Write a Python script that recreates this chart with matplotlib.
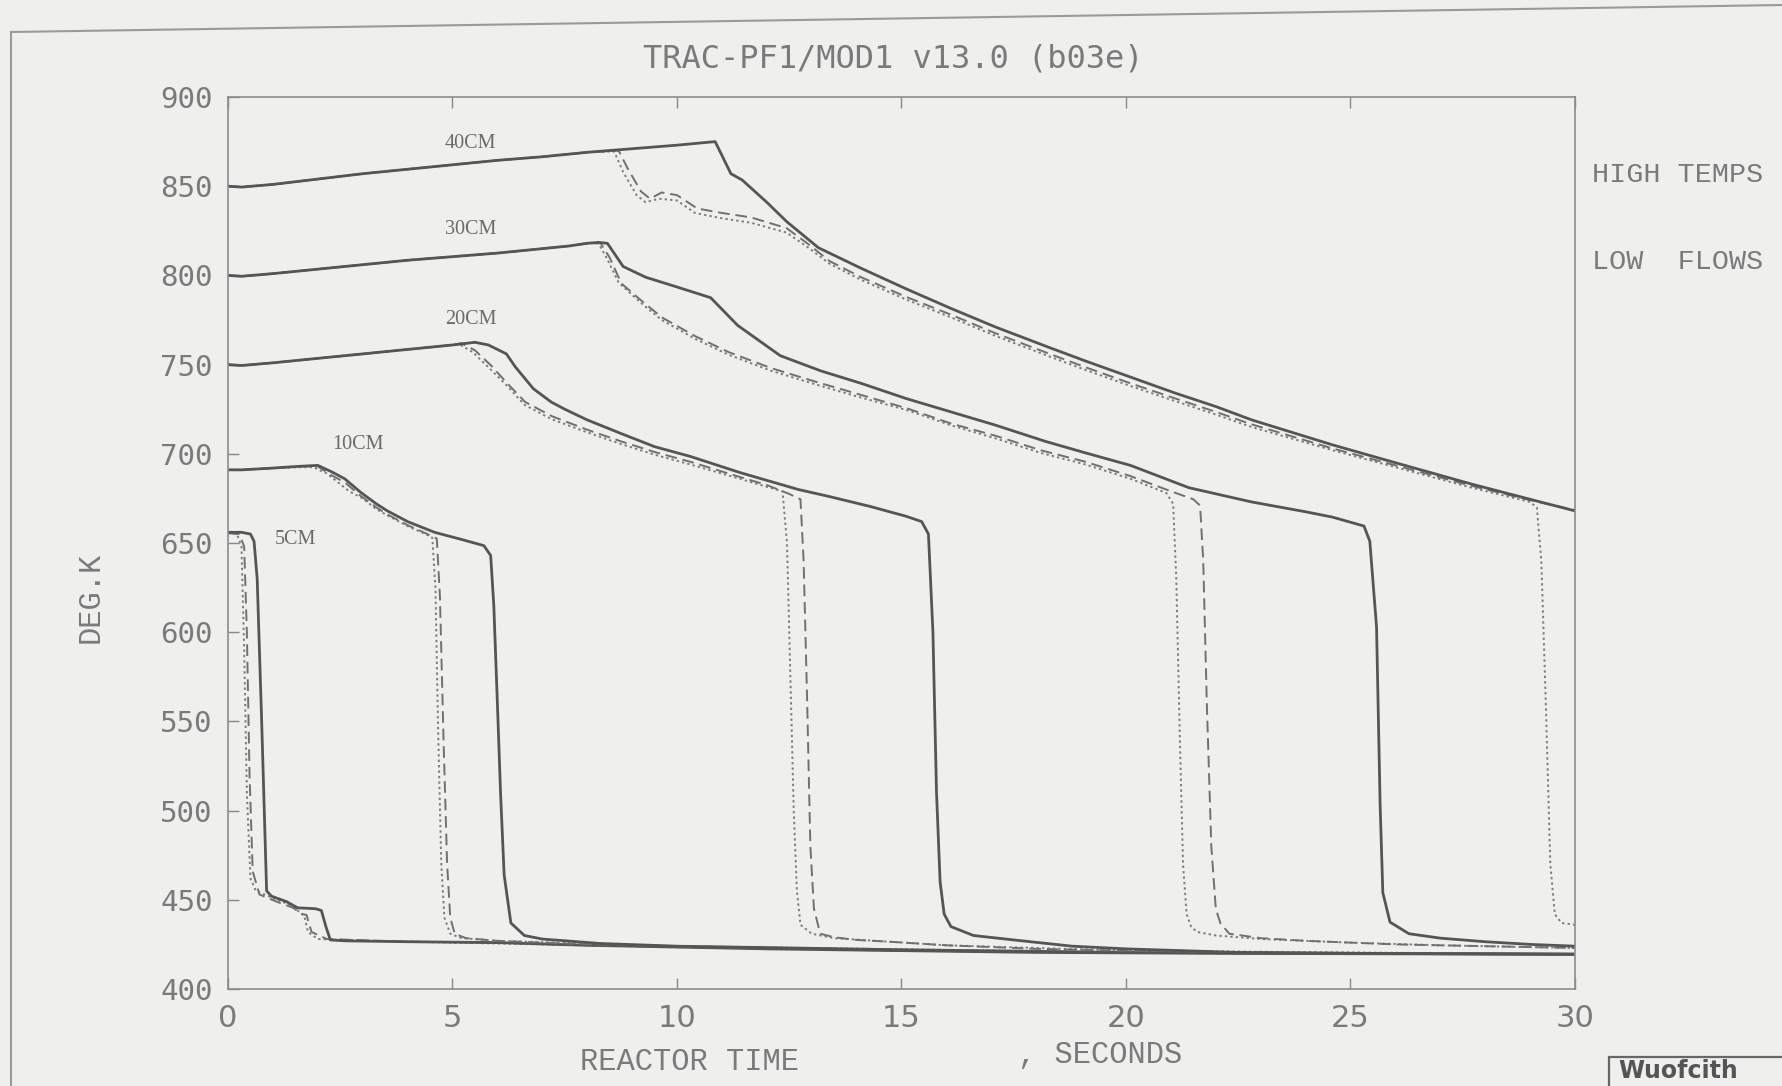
import matplotlib
matplotlib.use("Agg")
import matplotlib.pyplot as plt
from matplotlib.lines import Line2D
from matplotlib.patches import Rectangle

# ---------------------------------------------------------------------------
# Cladding temperature histories (deg K) at five elevations, three cases each
# ---------------------------------------------------------------------------
x_ticks = [0, 5, 10, 15, 20, 25, 30]
x_tick_labels = ["0", "5", "10", "15", "20", "25", "30"]
y_ticks = [400, 450, 500, 550, 600, 650, 700, 750, 800, 850, 900]
y_tick_labels = ["400", "450", "500", "550", "600", "650", "700", "750", "800", "850", "900"]

elevations = ["5CM", "10CM", "20CM", "30CM", "40CM"]
label_t = [1.5, 2.9, 5.4, 5.4, 5.4]
label_T = [652, 705, 775, 826, 874]

# --- 5 cm ---
t_5_solid = [0.0, 0.3, 0.5, 0.58, 0.65, 0.75, 0.86, 0.97, 1.3, 1.55, 1.95, 2.08, 2.18, 2.28,
             2.6, 4, 6, 8, 10, 12, 15, 18, 22, 26, 30]
T_5_solid = [656, 656, 655, 651, 630, 550, 455, 452, 449, 445.5, 445, 444, 435, 427.5,
             427, 426.5, 426, 424.5, 423.5, 422.5, 421.5, 420.5, 420, 419.7, 419.5]
t_5_dash = [0.0, 0.25, 0.36, 0.42, 0.48, 0.55, 0.7, 1.08, 1.45, 1.65, 1.75, 1.8, 1.86, 2.2,
            4, 6, 8, 10, 15, 22, 30]
T_5_dash = [655.5, 655, 648, 600, 520, 466, 453, 449, 445.5, 442, 441.5, 437, 432, 428,
            426.5, 426, 424.5, 423.5, 421.5, 420, 419.5]
t_5_dot = [0.0, 0.2, 0.3, 0.36, 0.42, 0.5, 0.62, 1.0, 1.4, 1.6, 1.7, 1.78, 2.0, 4, 8, 15, 30]
T_5_dot = [655.5, 655, 648, 590, 510, 462, 455, 451, 447, 443, 441, 432, 428, 426.5, 424.5,
           421.5, 419.5]

# --- 10 cm ---
t_10_solid = [0, 0.3, 1.0, 1.6, 2.0, 2.3, 2.6, 2.95, 3.3, 3.55, 4.0, 4.6, 5.2, 5.7, 5.85,
              5.92, 6.0, 6.07, 6.15, 6.3, 6.6, 7.0, 8.3, 10, 15, 20, 25, 30]
T_10_solid = [691, 691, 692, 693, 693.5, 690, 686, 678.5, 672, 668, 662, 656, 652, 648.5, 643,
              615, 560, 510, 464, 437, 430, 428, 425.5, 424, 422, 420.5, 420, 419.5]
t_10_dash = [0, 0.3, 1.0, 1.6, 2.0, 2.3, 2.6, 2.95, 3.3, 3.55, 4.0, 4.4, 4.65, 4.72, 4.8,
             4.88, 4.95, 5.05, 5.3, 6.0, 8.0, 10, 15, 20, 25, 30]
T_10_dash = [691, 691, 692, 693, 693, 688, 684, 676.5, 670, 666, 660, 655.5, 652.5, 620, 540,
             470, 440, 431, 428.5, 427, 425, 424, 422, 420.5, 420, 419.5]
t_10_dot = [0, 0.3, 1.0, 1.6, 1.9, 2.2, 2.45, 2.7, 3.0, 3.3, 3.55, 4.0, 4.4, 4.55, 4.62,
            4.68, 4.75, 4.82, 4.95, 5.2, 6.0, 10, 20, 30]
T_10_dot = [691, 691, 692, 692.5, 692.5, 689, 684, 679, 675, 669, 665.5, 659.5, 655, 653, 625,
            545, 470, 440, 431, 428.5, 427, 424, 420.5, 419.5]

# --- 20 cm ---
t_20_solid = [0, 0.3, 1, 2, 3, 4, 5, 5.5, 5.8, 6.2, 6.4, 6.8, 7.2, 7.5, 8.0, 8.75, 9.5, 10.3,
              11.4, 12.7, 13.4, 14.3, 15.1, 15.45, 15.6, 15.7, 15.78, 15.86, 15.95, 16.1,
              16.6, 17.5, 18.8, 20, 22.5, 25, 30]
T_20_solid = [750, 749.5, 751, 753.5, 756, 758.5, 761, 762.5, 761, 756, 748.7, 736.5, 729, 725,
              719, 711.4, 704, 698.5, 689.5, 680, 676, 670.5, 665, 662, 655, 600, 510, 460,
              442, 435, 430, 427.5, 424, 422.5, 420.5, 420, 419.5]
t_20_dash = [0, 0.3, 1, 2, 3, 4, 5, 5.2, 5.5, 5.86, 6.2, 6.62, 7.22, 8.0, 8.75, 9.5, 10.3,
             11.4, 12.0, 12.5, 12.75, 12.82, 12.9, 12.97, 13.05, 13.19, 13.5, 14.0, 14.8, 16,
             18, 20, 22, 25, 30]
T_20_dash = [750, 749.5, 751, 753.5, 756, 758.5, 761, 762, 758, 749.5, 740, 729, 721, 713.5,
             707, 701, 695.5, 687, 682.5, 677.5, 674.5, 640, 560, 480, 445, 431, 429, 427.5,
             426.4, 424.5, 422.5, 421.5, 420.8, 420, 419.5]
t_20_dot = [0, 0.3, 1, 2, 3, 4, 5, 5.15, 5.45, 5.8, 6.2, 6.6, 7.2, 8.0, 8.75, 9.5, 10.3, 11.4,
            12.0, 12.35, 12.45, 12.52, 12.6, 12.67, 12.75, 13.0, 13.5, 14.8, 16, 20, 30]
T_20_dot = [750, 749.5, 751, 753.5, 756, 758.5, 761, 761.5, 757, 748.5, 738.5, 727.5, 719.5,
            712, 705.5, 699.5, 694, 686, 681.5, 679, 650, 580, 500, 455, 436, 431, 428.5,
            426.4, 424.5, 421.5, 419.5]

# --- 30 cm ---
t_30_solid = [0, 0.3, 1, 2, 3, 4, 5, 6, 7, 7.6, 8.0, 8.25, 8.45, 8.8, 9.3, 10.0, 10.5, 10.75,
              11.35, 12.3, 13.2, 14.1, 15.1, 16.1, 17.1, 18.2, 19.1, 20.1, 21.4, 22.8, 24.0,
              24.6, 25.3, 25.43, 25.58, 25.66, 25.72, 25.88, 26.3, 27.0, 28.0, 29.0, 30]
T_30_solid = [800, 799.5, 801, 803.5, 806, 808.5, 810.5, 812.5, 815, 816.5, 818, 818.5, 818,
              805, 799, 793.5, 789.5, 787.5, 772, 755, 746.5, 739.5, 731, 723.5, 716, 707,
              700.5, 693.5, 681, 673, 667.5, 664.5, 659.5, 651, 603, 503, 454, 437.5, 431,
              428.5, 426.5, 425, 424]
t_30_dash = [0, 0.3, 1, 2, 3, 4, 5, 6, 7, 7.6, 8.0, 8.3, 8.5, 8.76, 9.2, 9.66, 10.4, 11.15,
             12.1, 13.14, 14.1, 15.12, 16.1, 17.11, 18.1, 19.1, 20.1, 21.0, 21.5, 21.65,
             21.72, 21.8, 21.9, 22.0, 22.1, 22.3, 23, 24, 25, 26, 28, 30]
T_30_dash = [800, 799.5, 801, 803.5, 806, 808.5, 810.5, 812.5, 815, 816.5, 818, 818, 810,
             795.5, 786, 776.5, 766, 757, 748, 740, 733, 725.5, 717, 710, 702, 695.5, 687.5,
             679, 674.5, 671, 640, 560, 480, 445, 437, 431, 428.5, 427, 426, 425, 424, 423]
t_30_dot = [0, 0.3, 1, 2, 3, 4, 5, 6, 7, 7.6, 8.0, 8.25, 8.45, 8.7, 9.2, 9.66, 10.4, 11.15,
            12.1, 13.14, 14.1, 15.12, 16.1, 17.11, 18.1, 19.1, 20.1, 20.9, 21.05, 21.12,
            21.2, 21.27, 21.35, 21.45, 21.58, 22, 23, 25, 27, 30]
T_30_dot = [800, 799.5, 801, 803.5, 806, 808.5, 810.5, 812.5, 815, 816.5, 818, 818, 809, 796,
            784.5, 775, 764.5, 755.5, 746.5, 738.5, 731.5, 724.5, 716, 708.5, 700.5, 694, 686,
            678, 672, 630, 540, 470, 442, 435, 432, 430, 428, 426, 424.5, 423]

# --- 40 cm ---
t_40_solid = [0, 0.3, 1, 2, 3, 4, 5, 6, 7, 8, 9, 10, 10.85, 11.2, 11.45, 12.0, 12.45, 13.15,
              14.1, 15.1, 16.1, 17.1, 18.3, 19.1, 20.1, 21.1, 22.0, 22.8, 24.6, 26.0, 27.7,
              29.0, 30]
T_40_solid = [850, 849.5, 851, 854, 857, 859.5, 862, 864.5, 866.5, 869, 871, 873, 875, 857,
              853.5, 841, 830, 815.5, 804, 792.5, 781.5, 771, 759.5, 752, 743, 734, 726.5,
              719, 705, 695, 683, 674.5, 668]
t_40_dash = [0, 0.3, 1, 2, 3, 4, 5, 6, 7, 8, 8.7, 8.9, 9.2, 9.4, 9.66, 10.0, 10.45, 11.0,
             11.65, 12.44, 12.9, 13.4, 14.1, 15.1, 16.1, 17.1, 18.3, 19.1, 20.1, 21.1, 22.0,
             22.8, 24.6, 26.0, 27.7, 29.0, 30]
T_40_dash = [850, 849.5, 851, 854, 857, 859.5, 862, 864.5, 866.5, 869, 870, 860, 847, 843,
             846.5, 845, 837.5, 835, 832.5, 826.5, 818, 808, 799, 788, 778, 767.5, 756, 748.5,
             739.5, 731, 723.5, 716.5, 703, 693.5, 682, 674, 668.5]
t_40_dot = [0, 0.3, 1, 2, 3, 4, 5, 6, 7, 8, 8.6, 8.8, 9.1, 9.3, 9.6, 10.0, 10.4, 11.0, 11.65,
            12.44, 12.9, 13.4, 14.1, 15.1, 16.1, 17.1, 18.3, 19.1, 20.1, 21.1, 22.0, 22.8,
            24.6, 26.0, 27.7, 29.0, 29.15, 29.25, 29.35, 29.45, 29.55, 29.7, 30]
T_40_dot = [850, 849.5, 851, 854, 857, 859.5, 862, 864.5, 866.5, 869, 869.5, 858, 845, 841,
            843, 842, 835, 832, 829.5, 824, 816, 806.5, 797.5, 786.5, 776.5, 766, 754.5, 747,
            738, 729.5, 722, 715, 702, 692.5, 681, 673, 670, 640, 560, 470, 442, 437, 436]

series = [
    (t_5_dot, T_5_dot, "dot"), (t_5_dash, T_5_dash, "dash"), (t_5_solid, T_5_solid, "solid"),
    (t_10_dot, T_10_dot, "dot"), (t_10_dash, T_10_dash, "dash"), (t_10_solid, T_10_solid, "solid"),
    (t_20_dot, T_20_dot, "dot"), (t_20_dash, T_20_dash, "dash"), (t_20_solid, T_20_solid, "solid"),
    (t_30_dot, T_30_dot, "dot"), (t_30_dash, T_30_dash, "dash"), (t_30_solid, T_30_solid, "solid"),
    (t_40_dot, T_40_dot, "dot"), (t_40_dash, T_40_dash, "dash"), (t_40_solid, T_40_solid, "solid"),
]

styles = {
    "solid": dict(color="#555555", lw=2.0, ls="-"),
    "dash": dict(color="#707070", lw=1.4, ls=(0, (6, 3))),
    "dot": dict(color="#7c7c7c", lw=1.4, ls=(0, (1.2, 1.6))),
}

PAPER = "#efefed"
MONO = ["Liberation Mono", "DejaVu Sans Mono"]
NARROW = ["Liberation Sans Narrow", "DejaVu Sans"]
SERIF = ["Liberation Serif", "DejaVu Serif"]

fig = plt.figure(figsize=(17.83, 10.86), dpi=100, facecolor=PAPER)
ax = fig.add_axes([228 / 1783, 97 / 1086, 1347 / 1783, 892 / 1086], facecolor=PAPER)

for t, T, kind in series:
    ax.plot(t, T, solid_capstyle="round", **styles[kind])

ax.set_xlim(0, 30)
ax.set_ylim(400, 900)
ax.set_xticks(x_ticks)
ax.set_xticklabels(x_tick_labels, family=NARROW, fontsize=22, color="#7a7a7a")
ax.set_yticks(y_ticks)
ax.set_yticklabels(y_tick_labels, family=["DejaVu Sans Mono"], fontsize=21, color="#7a7a7a")
ax.tick_params(axis="both", direction="in", length=8, width=1.0, color="#888888",
               top=True, right=False, pad=11)
for side in ["left", "right", "top", "bottom"]:
    ax.spines[side].set_color("#8c8c8c")
    ax.spines[side].set_linewidth(1.2)

# elevation labels next to each curve
for name, lt, lT in zip(elevations, label_t, label_T):
    ax.text(lt, lT, name, family=SERIF, fontsize=14.5, color="#6a6a6a",
            ha="center", va="center")

# titles and axis captions
fig.text(0.501, 0.9457, "TRAC-PF1/MOD1 v13.0 (b03e)", family=["DejaVu Sans Mono"],
         fontsize=23, color="#7a7a7a", ha="center", va="center")
fig.text(0.3866, 0.0221, "REACTOR TIME", family=MONO, fontsize=22, color="#7a7a7a",
         ha="center", va="center")
fig.text(0.571, 0.0289, ", SECONDS", family=MONO, fontsize=22, color="#7a7a7a",
         ha="left", va="center")
fig.text(0.051, 0.450, "DEG.K", family=MONO, fontsize=22, color="#7a7a7a",
         ha="center", va="center", rotation=90)
fig.text(0.8929, 0.8384, "HIGH TEMPS", family=MONO, fontsize=20.5, color="#7a7a7a",
         ha="left", va="center")
fig.text(0.8929, 0.7592, "LOW  FLOWS", family=MONO, fontsize=20.5, color="#7a7a7a",
         ha="left", va="center")

# page border of the sheet
fig.add_artist(Line2D([11 / 1783, 11 / 1783], [0.0, 1 - 32 / 1086],
                      transform=fig.transFigure, color="#9a9a9a", lw=1.5))
fig.add_artist(Line2D([11 / 1783, 1.0], [1 - 32 / 1086, 1 - 5 / 1086],
                      transform=fig.transFigure, color="#9a9a9a", lw=1.5))

# stamp box in the lower right corner
fig.add_artist(Rectangle((1609 / 1783, -0.05), 0.2, 0.05 + 1 - 1057 / 1086,
                         transform=fig.transFigure, facecolor="none",
                         edgecolor="#666666", lw=1.6))
fig.text(1618 / 1783, 3 / 1086, "Wuofcith", family=["DejaVu Sans"], fontsize=17,
         fontweight="bold", color="#555555", ha="left", va="bottom")

fig.savefig("out.png", dpi=100, facecolor=PAPER)
